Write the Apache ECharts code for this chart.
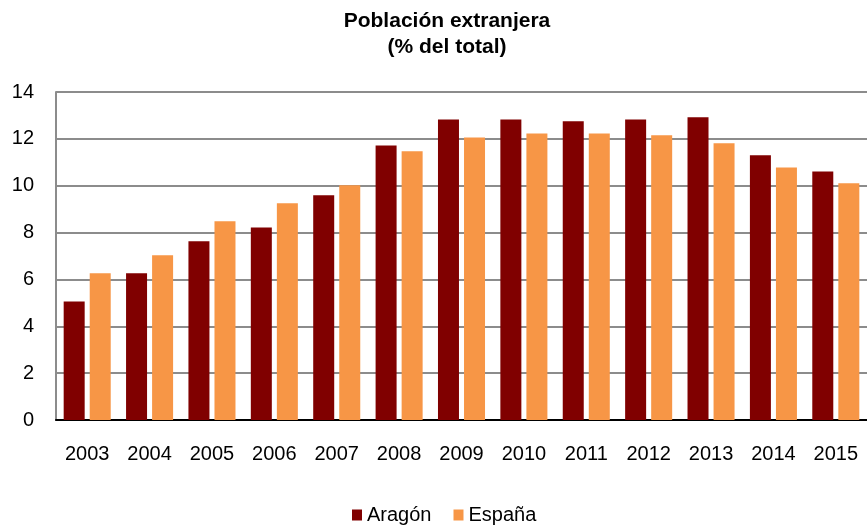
<!DOCTYPE html>
<html>
<head>
<meta charset="utf-8">
<script src="https://cdn.jsdelivr.net/npm/echarts@6/dist/echarts.min.js"></script>
<style>
  html, body { margin: 0; padding: 0; background: #fff; }
  #chart { width: 867px; height: 526px; }
</style>
</head>
<body>
<div id="chart"></div>
<script>
const years = ["2003", "2004", "2005", "2006", "2007", "2008", "2009", "2010", "2011", "2012", "2013", "2014", "2015"];
const aragon = [5.06, 6.26, 7.63, 8.22, 9.59, 11.72, 12.83, 12.83, 12.75, 12.83, 12.92, 11.30, 10.61];
const espana = [6.26, 7.03, 8.48, 9.25, 10.02, 11.47, 12.06, 12.23, 12.23, 12.15, 11.81, 10.78, 10.10];

const font = "'Liberation Sans', Arial, sans-serif";
const chart = echarts.init(document.getElementById("chart"));

const option = {
  animation: false,
  title: {
    text: "Población extranjera\n(% del total)",
    left: 442,
    top: 3,
    textAlign: "center",
    textStyle: {
      fontFamily: font,
      fontSize: 21,
      fontWeight: "bold",
      lineHeight: 26,
      color: "#000",
    },
  },
  legend: {
    data: ["Aragón", "España"],
    left: 352,
    top: 505,
    padding: 0,
    icon: "rect",
    itemWidth: 10,
    itemHeight: 11,
    itemGap: 22,
    textStyle: { fontFamily: font, fontSize: 20, color: "#000" },
  },
  grid: {
    left: 56,
    top: 92,
    width: 819,
    height: 328,
  },
  xAxis: {
    type: "category",
    data: years,
    axisLine: { lineStyle: { color: "#000", width: 2 } },
    axisTick: { show: false },
    axisLabel: { fontFamily: font, fontSize: 20, color: "#000", margin: 24 },
  },
  yAxis: {
    type: "value",
    min: 0,
    max: 14,
    interval: 2,
    axisLine: { show: true, lineStyle: { color: "#8c8c8c", width: 2 } },
    axisTick: { show: false },
    splitLine: { lineStyle: { color: "#8c8c8c", width: 2 } },
    axisLabel: { fontFamily: font, fontSize: 20, color: "#000", margin: 22 },
  },
  series: [
    {
      name: "Aragón",
      type: "bar",
      data: aragon,
      barWidth: 21,
      barGap: "24%",
      itemStyle: { color: "#800000" },
    },
    {
      name: "España",
      type: "bar",
      data: espana,
      barWidth: 21,
      itemStyle: { color: "#F79646" },
    },
  ],
};

chart.setOption(option);
</script>
</body>
</html>
